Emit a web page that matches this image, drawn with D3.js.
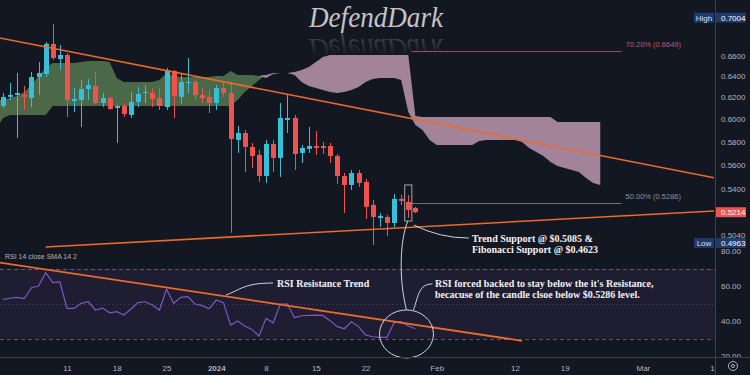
<!DOCTYPE html>
<html>
<head>
<meta charset="utf-8">
<script src="https://cdn.jsdelivr.net/npm/d3@7"></script>
<style>
  html, body { margin: 0; padding: 0; background: #131722; }
  svg { display: block; }
</style>
</head>
<body>
<div id="chart"></div>
<script>
"use strict"

// daily candles, first one on candleStart
const candleStart = "2023-12-02"
const opens  = [.6121,.6205,.6223,.6223,.6195,.6394,.6423,.6721,.6570,.6610,.6167,.6176,.6280,.6308,.6148,.6195,.6102,.6121,.6038,.6158,.6242,.6242,.6195,.6111,.6452,.6205,.6336,.6346,.6223,.6205,
                .6148,.6289,.6242,.5815,.5876,.5754,.5685,.5507,.5780,.5659,.5993,.6011,.5702,.5737,.5762,.5762,.5762,.5676,.5507,.5433,.5532,.5458,.5272,.5169,.5177,.5130,.5320,.5296,.5248]
const highs  = [.6242,.6336,.6433,.6308,.6443,.6540,.6741,.6926,.6710,.6630,.6289,.6365,.6374,.6443,.6242,.6205,.6130,.6148,.6251,.6299,.6317,.6289,.6289,.6482,.6462,.6423,.6580,.6365,.6289,.6270,
                .6317,.6346,.6346,.5939,.5903,.5788,.5728,.5815,.5815,.6148,.6223,.6038,.5771,.5930,.5894,.5797,.5788,.5693,.5532,.5557,.5557,.5482,.5312,.5208,.5193,.5360,.5352,.5352,.5256]
const lows   = [.6102,.6176,.5832,.6084,.6111,.6223,.6394,.6560,.6462,.6020,.6065,.5930,.6176,.6139,.6111,.6084,.5788,.6020,.6011,.6111,.6148,.6111,.6084,.6084,.6011,.6139,.6242,.6176,.6148,.6056,
                .6084,.6205,.5054,.5702,.5541,.5574,.5458,.5450,.5541,.5499,.5876,.5557,.5616,.5702,.5685,.5693,.5616,.5442,.5208,.5392,.5417,.5161,.4963,.5099,.5031,.5099,.5272,.5169,.5208]
const closes = [.6205,.6223,.6242,.6205,.6394,.6433,.6721,.6580,.6610,.6176,.6186,.6280,.6317,.6148,.6195,.6093,.6121,.6047,.6158,.6232,.6251,.6186,.6121,.6462,.6214,.6346,.6346,.6223,.6195,.6148,
                .6289,.6242,.5823,.5876,.5754,.5676,.5507,.5780,.5659,.6011,.6011,.5693,.5745,.5762,.5745,.5745,.5676,.5507,.5433,.5532,.5450,.5256,.5177,.5185,.5130,.5320,.5304,.5232,.5214]
const rsiValues = [52.4,53.0,53.5,52.8,59.0,60.0,67.6,61.9,62.3,47.2,47.2,50.1,51.0,46.3,47.4,44.7,45.3,43.4,46.9,50.5,
                   51.0,49.1,46.3,58.1,50.1,53.5,53.9,49.7,48.8,47.0,52.0,50.5,37.7,40.0,37.1,35.2,31.4,41.5,39.0,49.7,
                   49.7,41.9,43.0,43.2,43.4,43.2,40.2,36.8,35.6,39.6,36.8,32.0,31.0,30.7,30.7,39.0,39.6,37.1,35.6]

// ichimoku cloud, daily from cloudStart (leads 25 days past last candle)
const cloudStart = "2023-12-01"
const spanA = [.6176,.6176,.6195,.6214,.6251,.6317,.6404,.6482,.6530,.6530,
               .6530,.6530,.6540,.6550,.6550,.6550,.6540,.6384,.6346,.6346,
               .6346,.6346,.6346,.6365,.6433,.6404,.6394,.6394,.6394,.6394,
               .6394,.6404,.6404,.6452,.6414,.6414,.6414,.6404,.6384,.6423,
               .6433,.6433,.6414,.6346,.6308,.6289,.6270,.6251,.6242,.6251,
               .6270,.6299,.6346,.6374,.6384,.6384,.6384,.6365,.6065,.5948,
               .5903,.5815,.5771,.5771,.5771,.5771,.5771,.5771,.5806,.5815,
               .5815,.5815,.5815,.5815,.5797,.5745,.5711,.5676,.5625,.5591,
               .5574,.5557,.5541,.5491,.5450,.5433]
const spanB = [.5903,.6011,.6038,.6038,.6038,.6038,.6038,.6038,.6121,.6121,
               .6121,.6121,.6121,.6121,.6121,.6121,.6121,.6121,.6121,.6121,
               .6121,.6121,.6121,.6121,.6121,.6121,.6121,.6121,.6121,.6121,
               .6121,.6121,.6121,.6121,.6176,.6251,.6308,.6365,.6414,.6433,
               .6433,.6433,.6443,.6462,.6491,.6540,.6590,.6610,.6610,.6610,
               .6610,.6610,.6610,.6610,.6610,.6610,.6610,.6610,.6610,.6029,
               .6020,.6020,.6020,.6020,.6020,.6020,.6020,.6020,.6020,.6020,
               .6020,.6020,.6020,.6020,.6020,.6020,.6020,.6020,.6020,.5975,
               .5975,.5975,.5975,.5975,.5975,.5975]

const priceTicks = [0.66, 0.64, 0.62, 0.60, 0.58, 0.56, 0.54, 0.504]
const rsiTicks = [80, 60, 40, 20]
const timeTicks = ["2023-12-11","2023-12-18","2023-12-25","2024-01-01","2024-01-08","2024-01-15",
                   "2024-01-22","2024-02-01","2024-02-12","2024-02-19","2024-03-01","2024-03-11"]
const timeLabels = ["11","18","25","2024","8","15","22","Feb","12","19","Mar","11"]

// drawings
const resistLine = [["2023-12-01", 0.6790], ["2024-03-11", 0.5492]]
const supportLine = [["2023-12-08", 0.4948], ["2024-03-11", 0.5224]]
const rsiTrend = [["2023-12-01", 73.7], ["2024-02-13", 28.7]]
const fibDates = ["2024-01-28", "2024-02-27"]
const fibLevels = [0.6649, 0.5286]
const fibLabels = ["70.20% (0.6649)", "50.00% (0.5286)"]
const boxDate = "2024-01-28"
const boxPrices = [0.5433, 0.5145]
const highPrice = 0.7004, lowPrice = 0.4963, lastPrice = 0.5214

const W = 750, H = 375
const plotR = 715, priceB = 248, timeT = 357
const bg = "#131722", upCol = "#38bed6", downCol = "#ef5350", orange = "#ec6a2a"
const axisText = "#b2b5be"

const t = s => new Date(s + "T00:00:00Z")
const half = s => d3.utcHour.offset(t(s), 12)

const x = d3.scaleUtc().domain([t("2023-12-11"), t("2024-03-11")]).range([67, 714])
const y = d3.scaleLog().domain([0.54, 0.66]).range([189, 56])
const r = d3.scaleLinear().domain([20, 80]).range([356, 251])

const svg = d3.select("#chart").append("svg")
  .attr("width", W).attr("height", H)
  .style("font-family", "'Liberation Sans', Arial, sans-serif")

const defs = svg.append("defs")
defs.append("clipPath").attr("id", "clipPrice")
  .append("rect").attr("width", plotR).attr("height", priceB)
defs.append("clipPath").attr("id", "clipRsi")
  .append("rect").attr("y", priceB).attr("width", plotR).attr("height", timeT - priceB)
const fade = defs.append("linearGradient").attr("id", "fade")
  .attr("gradientUnits", "userSpaceOnUse").attr("x1", 0).attr("x2", 0).attr("y1", 27).attr("y2", 10)
fade.append("stop").attr("offset", 0).attr("stop-color", "#c8c8c8").attr("stop-opacity", 0.22)
fade.append("stop").attr("offset", 1).attr("stop-color", "#c8c8c8").attr("stop-opacity", 0)

svg.append("rect").attr("width", W).attr("height", H).attr("fill", bg)

// watermark + reflection
const mark = svg.append("g").style("font-family", "'Liberation Serif', serif")
  .style("font-style", "italic").style("font-size", "29px")
mark.append("text").attr("x", 309).attr("y", 27)
  .attr("textLength", 134).attr("lengthAdjust", "spacingAndGlyphs")
  .attr("fill", "#c4c4c4").text("DefendDark")
mark.append("text").attr("x", 309).attr("y", 27)
  .attr("textLength", 134).attr("lengthAdjust", "spacingAndGlyphs")
  .attr("transform", "translate(0,66) scale(1,-1)")
  .attr("fill", "url(#fade)").text("DefendDark")

const pane = svg.append("g").attr("clip-path", "url(#clipPrice)")

// cloud
const cloud = spanA.map((a, i) => ({date: d3.utcDay.offset(t(cloudStart), i), a, b: spanB[i]}))
pane.append("path").datum(cloud).attr("fill", "#4b6849")
  .attr("d", d3.area().x(d => x(d.date)).y0(d => y(d.b)).y1(d => y(Math.max(d.a, d.b))))
pane.append("path").datum(cloud).attr("fill", "#a2839a")
  .attr("d", d3.area().x(d => x(d.date)).y0(d => y(d.a)).y1(d => y(Math.max(d.a, d.b))))

// fib levels
const fibCols = ["#9c4a64", "#6d717c"], fibText = ["#c8566f", "#8f929b"]
fibLevels.forEach((p, i) => {
  pane.append("line")
    .attr("x1", x(half(fibDates[0]))).attr("x2", x(t(fibDates[1])))
    .attr("y1", Math.round(y(p)) + 0.5).attr("y2", Math.round(y(p)) + 0.5)
    .attr("stroke", fibCols[i]).attr("stroke-width", 1)
  pane.append("text").attr("x", x(t(fibDates[1])) + 4).attr("y", y(p) - 4)
    .attr("fill", fibText[i]).style("font-size", "7.5px").text(fibLabels[i])
})

// candles
const candles = opens.map((o, i) => ({
  date: d3.utcDay.offset(t(candleStart), i), o, h: highs[i], l: lows[i], c: closes[i]
}))
const col = d => d.c >= d.o ? upCol : downCol
pane.selectAll(".wick").data(candles).join("line")
  .attr("x1", d => Math.round(x(d.date)) + 0.5).attr("x2", d => Math.round(x(d.date)) + 0.5)
  .attr("y1", d => y(d.h)).attr("y2", d => y(d.l))
  .attr("stroke", col).attr("stroke-width", 1)
pane.selectAll(".body").data(candles).join("rect")
  .attr("x", d => Math.round(x(d.date)) - 2).attr("width", 5)
  .attr("y", d => y(Math.max(d.o, d.c)))
  .attr("height", d => Math.max(1, Math.abs(y(d.o) - y(d.c))))
  .attr("fill", col)

// trend lines
const priceLine = d3.line().x(d => x(t(d[0]))).y(d => y(d[1]))
pane.append("path").attr("d", priceLine(resistLine)).attr("fill", "none")
  .attr("stroke", orange).attr("stroke-width", 1.6)
pane.append("path").attr("d", priceLine(supportLine)).attr("fill", "none")
  .attr("stroke", orange).attr("stroke-width", 1.6)

// highlight box
const bx0 = x(d3.utcHour.offset(t(boxDate), -12)), bx1 = x(half(boxDate))
svg.append("rect").attr("x", bx0).attr("y", y(boxPrices[0]))
  .attr("width", bx1 - bx0).attr("height", y(boxPrices[1]) - y(boxPrices[0]))
  .attr("fill", "none").attr("stroke", "#a3a6af").attr("stroke-width", 1)

// RSI pane
const rp = svg.append("g").attr("clip-path", "url(#clipRsi)")
rp.append("rect").attr("x", 0).attr("width", plotR)
  .attr("y", r(70)).attr("height", r(30) - r(70)).attr("fill", "rgba(126,87,194,0.1)")
;[70, 30].forEach(v => rp.append("line").attr("x1", 0).attr("x2", plotR)
  .attr("y1", Math.round(r(v)) + 0.5).attr("y2", Math.round(r(v)) + 0.5)
  .attr("stroke", "#787b86").attr("stroke-opacity", 0.7).attr("stroke-dasharray", "4,3"))
rp.append("line").attr("x1", 0).attr("x2", plotR)
  .attr("y1", Math.round(r(50)) + 0.5).attr("y2", Math.round(r(50)) + 0.5)
  .attr("stroke", "#787b86").attr("stroke-opacity", 0.45).attr("stroke-dasharray", "1,3")

rp.append("path").datum(candles.map((c, i) => [c.date, rsiValues[i]]))
  .attr("fill", "none").attr("stroke", "#7e57c2").attr("stroke-width", 1.2)
  .attr("d", d3.line().x(d => x(d[0])).y(d => r(d[1])))
rp.append("path").attr("d", d3.line().x(d => x(t(d[0]))).y(d => r(d[1]))(rsiTrend))
  .attr("fill", "none").attr("stroke", orange).attr("stroke-width", 1.8)

svg.append("text").attr("x", 5).attr("y", 259).attr("fill", axisText)
  .style("font-size", "7px").text("RSI 14 close SMA 14 2")

// annotations
const note = svg.append("g").attr("fill", "none").attr("stroke", "#d1d4dc").attr("stroke-width", 1)
const ex = x(d3.utcHour.offset(t("2024-01-27"), 18)), ey = r(32.6)
note.append("ellipse").attr("cx", ex).attr("cy", ey).attr("rx", 27).attr("ry", 24)
note.append("path").attr("d", `M${bx1 + 2},${y(boxPrices[1]) + 4} Q${bx1 + 28},${y(boxPrices[1]) + 17} ${bx1 + 57},${y(boxPrices[1]) + 17}`)
note.append("path").attr("d", `M${bx0 + 3},${y(boxPrices[1])} C${bx0 - 5},${y(boxPrices[1]) + 20} ${bx0 - 6},${ey - 54} ${ex},${ey - 24}`)
note.append("path").attr("d", `M${ex + 7},${ey - 24} C${ex + 12},${ey - 38} ${ex + 12},${ey - 50} ${ex + 26},${ey - 50}`)
note.append("path").attr("d", "M226,295 C240,290 244,283 273,283")

const ann = svg.append("g").attr("fill", "#f2f2f2")
  .style("font-family", "'Liberation Serif', 'Times New Roman', serif")
  .style("font-weight", "bold").style("font-size", "10px")
ann.append("text").attr("x", 472).attr("y", 242).text("Trend Support @ $0.5085 &")
ann.append("text").attr("x", 472).attr("y", 252.5).text("Fibonacci Support @ $0.4623")
ann.append("text").attr("x", 277).attr("y", 287).text("RSI Resistance Trend")
ann.append("text").attr("x", 435).attr("y", 287).text("RSI forced backed to stay below the it's Resistance,")
ann.append("text").attr("x", 435).attr("y", 297.5).text("becacuse of the candle clsoe below $0.5286 level.")

// right axis
svg.append("rect").attr("x", plotR).attr("width", W - plotR).attr("height", H).attr("fill", bg)
const pAxis = svg.append("g").attr("transform", `translate(${plotR},0)`)
  .call(d3.axisRight(y).tickValues(priceTicks).tickFormat(d3.format(".4f")).tickSize(0).tickPadding(6))
const rAxis = svg.append("g").attr("transform", `translate(${plotR},0)`)
  .call(d3.axisRight(r).tickValues(rsiTicks).tickFormat(d3.format(".2f")).tickSize(0).tickPadding(6))
;[pAxis, rAxis].forEach(g => {
  g.select(".domain").remove()
  g.selectAll("text").attr("fill", axisText).style("font-size", "8px")
    .style("font-family", "'Liberation Sans', Arial, sans-serif")
})

function tag(yc, label, value, fill) {
  const g = svg.append("g").style("font-size", "8px")
  if (label) {
    g.append("rect").attr("x", 694).attr("y", yc - 5).attr("width", 20).attr("height", 10).attr("fill", fill)
    g.append("text").attr("x", 704).attr("y", yc + 3).attr("text-anchor", "middle")
      .attr("fill", "#d8dae0").text(label)
  }
  g.append("rect").attr("x", 716).attr("y", yc - 5).attr("width", 30).attr("height", 10).attr("fill", fill)
  g.append("text").attr("x", 721).attr("y", yc + 3).attr("fill", "#ffffff").text(value)
}
tag(y(highPrice) + 1, "High", d3.format(".4f")(highPrice), "#1e3a6c")
tag(Math.min(y(lowPrice), priceB - 5), "Low", d3.format(".4f")(lowPrice), "#1e3a6c")
tag(y(lastPrice), null, d3.format(".4f")(lastPrice), downCol)

// time axis
svg.append("g").attr("transform", `translate(0,${timeT})`)
  .call(d3.axisBottom(x).tickValues(timeTicks.map(t)).tickFormat((d, i) => timeLabels[i]).tickSize(0).tickPadding(8))
  .call(g => g.select(".domain").remove())
  .call(g => g.selectAll("text").attr("fill", axisText).style("font-size", "8px")
    .style("font-family", "'Liberation Sans', Arial, sans-serif")
    .style("font-weight", (d, i) => timeLabels[i] === "2024" ? "bold" : "normal"))

svg.append("rect").attr("x", plotR + 1).attr("y", timeT + 1).attr("width", W - plotR).attr("height", H - timeT).attr("fill", bg)
svg.append("line").attr("x1", 0).attr("x2", W).attr("y1", timeT + 0.5).attr("y2", timeT + 0.5).attr("stroke", "#3b3f4b")
svg.append("line").attr("x1", plotR + 0.5).attr("x2", plotR + 0.5).attr("y1", 0).attr("y2", H).attr("stroke", "#3b3f4b")
svg.append("circle").attr("cx", 733).attr("cy", 366).attr("r", 4.5).attr("fill", "none").attr("stroke", axisText)
svg.append("circle").attr("cx", 733).attr("cy", 366).attr("r", 1.5).attr("fill", "none").attr("stroke", axisText)
</script>
</body>
</html>
